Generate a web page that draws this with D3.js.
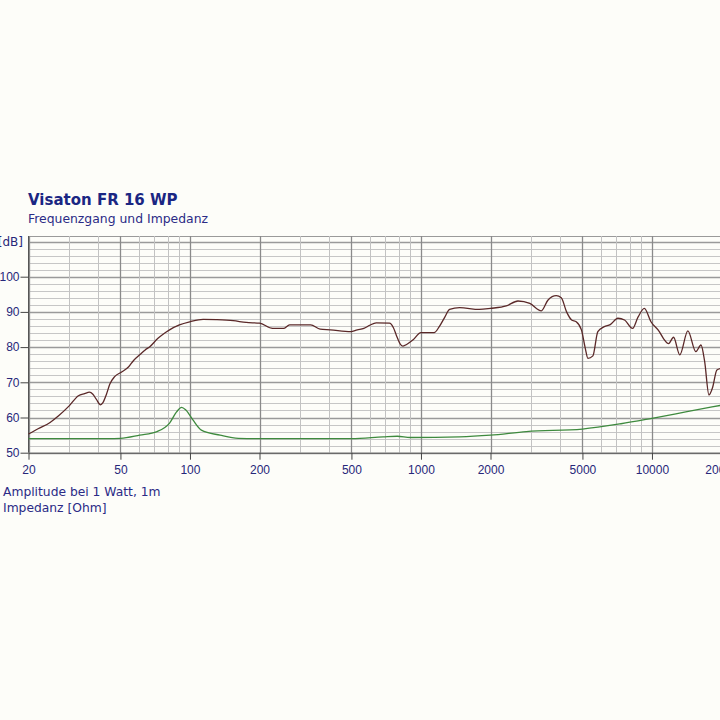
<!DOCTYPE html>
<html>
<head>
<meta charset="utf-8">
<script src="https://cdn.jsdelivr.net/npm/d3@7"></script>
<style>
  body { margin: 0; background: #fdfdf9; }
  svg { display: block; }
</style>
</head>
<body>
<figure id="chart" style="margin:0"></figure>
<script>
// Frequency response (dB)
const ampFreq = [20, 22, 24.8, 27, 30, 32.9, 35, 36.7, 38, 39.3, 41, 42, 43.5, 45, 47.2, 50.8, 54.3, 57, 60.6, 64, 67, 72.7, 77, 81.6, 90, 100, 114, 130, 154, 175, 200, 228, 254, 270, 333, 366, 405, 497, 530, 566, 600, 640, 730, 760, 782, 815, 836, 870, 922, 1000, 1140, 1200, 1270, 1330, 1470, 1790, 2000, 2340, 2630, 2960, 3320, 3550, 3850, 4050, 4270, 4490, 4700, 4950, 5150, 5280, 5550, 5830, 6220, 6600, 7120, 7610, 8240, 8700, 9270, 9900, 10760, 11200, 11800, 12400, 13200, 14300, 15500, 16300, 16900, 17650, 18300, 19100, 20000];
const amplitude = [55.3, 56.8, 58.6, 60.5, 63.3, 66.2, 66.8, 67.2, 66.6, 65.2, 63.6, 64.2, 66.6, 69.5, 71.6, 73.0, 74.4, 76.2, 77.8, 79.2, 80.1, 82.5, 83.8, 84.9, 86.3, 87.2, 87.9, 87.8, 87.5, 87.0, 86.8, 85.3, 85.3, 86.3, 86.3, 85.1, 84.9, 84.4, 84.9, 85.3, 86.2, 86.9, 86.8, 85.5, 83.4, 80.8, 80.3, 80.8, 82.0, 84.1, 84.1, 85.8, 88.6, 90.7, 91.2, 90.7, 91.0, 91.7, 93.1, 92.4, 90.3, 93.4, 94.6, 94.0, 90.0, 87.7, 87.2, 84.9, 79.5, 76.8, 77.5, 84.4, 85.8, 86.4, 88.2, 87.7, 85.3, 88.5, 91.0, 87.2, 84.4, 82.5, 81.0, 82.8, 77.8, 84.6, 78.7, 80.6, 76.0, 66.4, 68.5, 73.5, 74.0];

// Impedance (Ohm), same frequency axis
const impFreq = [20, 30, 44, 50, 60.6, 72, 81.6, 87.5, 92, 96, 103, 112, 135, 162, 200, 500, 686, 790, 900, 1470, 2000, 2860, 5000, 7340, 10000, 14000, 20000];
const impedance = [6.7, 6.7, 6.7, 6.8, 8.3, 10.0, 14.0, 19.3, 21.5, 20.2, 15.5, 10.7, 8.3, 6.8, 6.7, 6.7, 7.5, 7.8, 7.2, 7.5, 8.3, 10.0, 11.2, 13.7, 16.3, 19.3, 22.5];

const xTicks = [20, 50, 100, 200, 500, 1000, 2000, 5000, 10000, 20000];
const yTicks = [50, 60, 70, 80, 90, 100];

const width = 720, height = 720;
const plotLeft = 28.5, decade = 231;
const plotBottom = 452.7, plotTop = 241.5, frameTop = 236;

const svg = d3.select("#chart")
  .append("svg")
  .attr("width", width)
  .attr("height", height)
  .style("font-family", "'DejaVu Sans', Verdana, sans-serif");

svg.append("rect").attr("width", width).attr("height", height).attr("fill", "#fdfdf9");

const x = d3.scaleLog()
  .domain([20, 20000])
  .range([plotLeft, plotLeft + decade * 3]);

const y = d3.scaleLinear()
  .domain([50, 110])
  .range([plotBottom, plotTop]);

const yImp = d3.scaleLinear()
  .domain([0, 100])
  .range([plotBottom, plotTop]);

// grid - horizontal every 2 dB, darker every 10
const hLines = d3.range(50, 111, 2);
svg.append("g").selectAll("line")
  .data(hLines)
  .enter()
  .append("line")
  .attr("x1", plotLeft).attr("x2", width)
  .attr("y1", d => Math.round(y(d)) + 0.5)
  .attr("y2", d => Math.round(y(d)) + 0.5)
  .attr("stroke", d => d % 10 === 0 ? "#9a9a9a" : "#c6c6c6")
  .attr("stroke-width", d => d % 10 === 0 ? 1.3 : 1);

svg.append("line")
  .attr("x1", plotLeft).attr("x2", width)
  .attr("y1", frameTop + 0.5).attr("y2", frameTop + 0.5)
  .attr("stroke", "#9a9a9a");

// grid - vertical, 1-2-..-9 per decade
const vAll = d3.range(1, 5).flatMap(p => d3.range(1, 10).map(k => k * Math.pow(10, p)))
  .filter(f => f >= 20 && f <= 20000);
svg.append("g").selectAll("line")
  .data(vAll)
  .enter()
  .append("line")
  .attr("x1", d => Math.round(x(d)) + 0.5)
  .attr("x2", d => Math.round(x(d)) + 0.5)
  .attr("y1", frameTop).attr("y2", plotBottom)
  .attr("stroke", d => xTicks.includes(d) ? "#8a8a8a" : "#c2c2c2")
  .attr("stroke-width", d => xTicks.includes(d) ? 1.3 : 1);

// axes
const textColor = "#27277a";

const xAxis = svg.append("g")
  .attr("transform", "translate(0," + plotBottom + ")")
  .call(d3.axisBottom(x).tickValues(xTicks).tickFormat(d => d).tickSize(7).tickSizeOuter(0).tickPadding(6));
xAxis.selectAll("text").attr("fill", textColor).style("font-size", "12px");
xAxis.selectAll("line").attr("stroke", "#444");
xAxis.select(".domain").attr("stroke", "#555");

const yAxis = svg.append("g")
  .attr("transform", "translate(" + plotLeft + ",0)")
  .call(d3.axisLeft(y).tickValues(yTicks).tickSize(8).tickSizeOuter(0).tickPadding(1));
yAxis.selectAll("text").attr("fill", textColor).style("font-size", "12px");
yAxis.selectAll("line").attr("stroke", "#444");
yAxis.select(".domain").attr("stroke", "#555").attr("d", "M0," + frameTop + "V" + plotBottom);

svg.append("text")
  .attr("x", 23).attr("y", y(110)).attr("dy", "0.35em")
  .attr("text-anchor", "end")
  .attr("fill", textColor)
  .style("font-size", "12px")
  .text("[dB]");

// curves
const lineAmp = d3.line()
  .x((d, i) => x(ampFreq[i]))
  .y(d => y(d))
  .curve(d3.curveMonotoneX);

svg.append("path")
  .attr("d", lineAmp(amplitude))
  .attr("fill", "none")
  .attr("stroke", "#5a2828")
  .attr("stroke-width", 1.3);

const lineImp = d3.line()
  .x((d, i) => x(impFreq[i]))
  .y(d => yImp(d))
  .curve(d3.curveMonotoneX);

svg.append("path")
  .attr("d", lineImp(impedance))
  .attr("fill", "none")
  .attr("stroke", "#3e8a3e")
  .attr("stroke-width", 1.3);

// titles
svg.append("text")
  .attr("x", 28).attr("y", 205)
  .attr("fill", "#1a2683")
  .style("font-size", "15px").style("font-weight", "bold")
  .text("Visaton FR 16 WP");

svg.append("text")
  .attr("x", 28).attr("y", 223)
  .attr("fill", "#2b2b86")
  .style("font-size", "12.4px")
  .text("Frequenzgang und Impedanz");

svg.append("text")
  .attr("x", 3).attr("y", 496)
  .attr("fill", "#2b2b86")
  .style("font-size", "12.3px")
  .text("Amplitude bei 1 Watt, 1m");

svg.append("text")
  .attr("x", 3).attr("y", 512)
  .attr("fill", "#2b2b86")
  .style("font-size", "12.3px")
  .text("Impedanz [Ohm]");
</script>
</body>
</html>
